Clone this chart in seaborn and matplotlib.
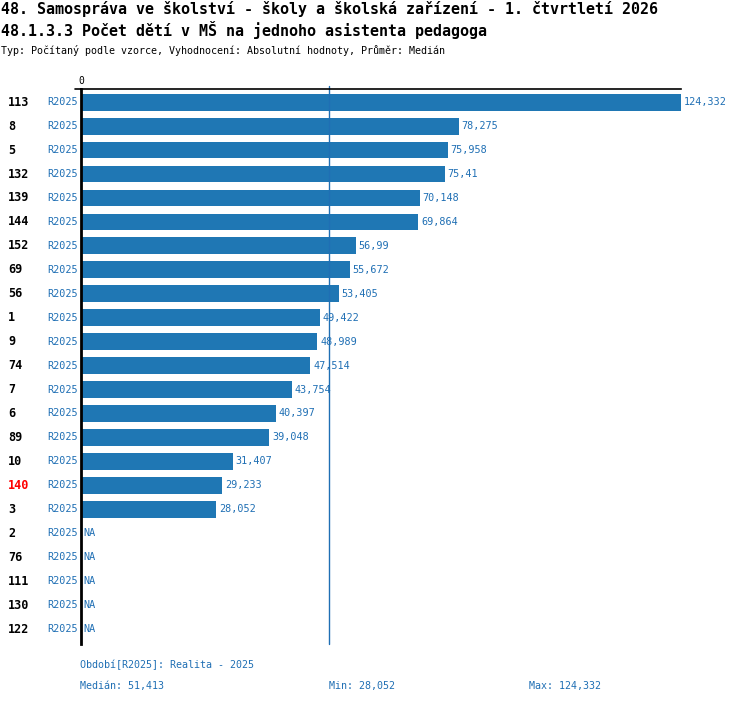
import numpy as np
import pandas as pd
import seaborn as sns
import matplotlib.pyplot as plt
from matplotlib.transforms import blended_transform_factory

# data
ids = ['113', '8', '5', '132', '139', '144', '152', '69', '56', '1', '9', '74',
       '7', '6', '89', '10', '140', '3', '2', '76', '111', '130', '122']
values = [124.332, 78.275, 75.958, 75.41, 70.148, 69.864, 56.99, 55.672, 53.405,
          49.422, 48.989, 47.514, 43.754, 40.397, 39.048, 31.407, 29.233, 28.052,
          np.nan, np.nan, np.nan, np.nan, np.nan]
period = 'R2025'
highlight = '140'
median_val = 51.413
min_val = 28.052
max_val = 124.332

title1 = '48. Samospráva ve školství - školy a školská zařízení - 1. čtvrtletí 2026'
title2 = '48.1.3.3 Počet dětí v MŠ na jednoho asistenta pedagoga'
subtitle = 'Typ: Počítaný podle vzorce, Vyhodnocení: Absolutní hodnoty, Průměr: Medián'
footer_period = 'Období[R2025]: Realita - 2025'

BAR = '#1f77b4'
TXT = '#1f6fb4'
MONO = 'DejaVu Sans Mono'


def cz(v):
    s = f'{v:.3f}'.rstrip('0').rstrip('.')
    return s.replace('.', ',')


df = pd.DataFrame({'id': ids, 'value': values})

sns.set_style('white')
plt.rcParams['font.family'] = [MONO]
plt.rcParams['text.color'] = 'black'

W, H = 750, 704
fig = plt.figure(figsize=(W / 100, H / 100), dpi=100)
# axes in pixel geometry: x 81..681, y 89..644
ax = fig.add_axes([81 / W, 1 - 644 / H, 600 / W, (644 - 89) / H])

sns.barplot(data=df, x='value', y='id', order=ids, orient='h', color=BAR,
            saturation=1, width=0.7, linewidth=0, ax=ax)

ax.set_xlim(0, max_val)
ax.set_ylim(len(ids) - 0.5 + 0.125, -0.5 - 0.05)
ax.set_xlabel('')
ax.set_ylabel('')
ax.set_yticks([])
ax.xaxis.tick_top()
ax.set_xticks([0])
ax.set_xticklabels(['0'], fontsize=7, color='black')
ax.tick_params(axis='x', length=0, pad=2)
for s in ['right', 'bottom']:
    ax.spines[s].set_visible(False)
ax.spines['left'].set_linewidth(2)
ax.spines['left'].set_color('black')
ax.spines['top'].set_linewidth(1.2)
ax.spines['top'].set_color('black')
ax.plot([-6 / 600, 0], [1, 1], transform=ax.transAxes, color='black', lw=1.2,
        clip_on=False)

ax.axvline(median_val, color=TXT, lw=1, ymin=0, ymax=1.005, clip_on=False)

tr = blended_transform_factory(ax.transAxes, ax.transData)
for i, (k, v) in enumerate(zip(ids, values)):
    ax.text((8 - 81) / 600, i, k, transform=tr, ha='left', va='center',
            fontsize=8.5, fontweight='bold',
            color='red' if k == highlight else 'black')
    ax.text(-3 / 600, i, period, transform=tr, ha='right', va='center',
            fontsize=7.3, color=TXT)
    if np.isnan(v):
        ax.text(2 / 600, i, 'NA', transform=tr, ha='left', va='center',
                fontsize=7.3, color=TXT)
    else:
        ax.annotate(cz(v), (v, i), xytext=(2, 0), textcoords='offset points',
                    ha='left', va='center', fontsize=7.3, color=TXT)

fig.text(1 / W, 1 - 9 / H, title1, fontsize=10.8, fontweight='bold',
         va='center', color='black')
fig.text(1 / W, 1 - 30 / H, title2, fontsize=10.8, fontweight='bold',
         va='center', color='black')
fig.text(1 / W, 1 - 50 / H, subtitle, fontsize=7.2, va='center', color='black')

fig.text(80 / W, 1 - 665 / H, footer_period, fontsize=7.2, color=TXT, va='center')
fig.text(80 / W, 1 - 686 / H, 'Medián: ' + cz(median_val), fontsize=7.2,
         color=TXT, va='center')
fig.text(329 / W, 1 - 686 / H, 'Min: ' + cz(min_val), fontsize=7.2,
         color=TXT, va='center')
fig.text(529 / W, 1 - 686 / H, 'Max: ' + cz(max_val), fontsize=7.2,
         color=TXT, va='center')

fig.savefig('out.png', dpi=100, facecolor='white')
